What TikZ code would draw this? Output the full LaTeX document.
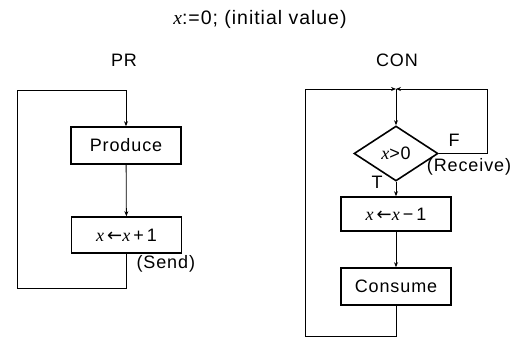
\documentclass[tikz,border=0pt]{standalone}
\usepackage{fontspec}
\setmainfont{Liberation Sans}[LetterSpace=5]
\newfontfamily\varfont{Liberation Serif}
\newfontfamily\symfont{DejaVu Sans}
\newcommand{\vx}{{\varfont\itshape x}}
\newcommand{\asgn}{{\symfont ←}}
\usetikzlibrary{arrows.meta, shapes.geometric}

\begin{document}
\begin{tikzpicture}[x=1pt, y=-1pt, font=\fontsize{18}{21}\selectfont,
    box/.style={draw, line width=1.6pt, minimum width=110pt, align=center},
    cond/.style={draw, line width=1.6pt, diamond, inner sep=0pt, minimum width=84pt, minimum height=55pt},
    wire/.style={line width=0.8pt},
    arr/.style={wire, -{Stealth[length=5pt, width=4pt]}}]
    \useasboundingbox (0,0) rectangle (515,339);

    \node[font=\fontsize{19.5}{22}\selectfont] (init) at (260,19) {\vx:=0; (initial value)};
    \node (pr)   at (124,60) {PR};
    \node (con)  at (397,60) {CON};

    % producer
    \node[box, minimum height=37pt] (prod) at (126,145.5) {Produce};
    \node[box, minimum height=36pt] (send) at (126.5,235) {\vx\,\asgn\vx\,+\,1};
    \node[anchor=west] (sendlbl) at (133,264) {(Send)};
    \coordinate (ptop) at (17,90);
    \coordinate (pbot) at (17,288);
    \draw[arr] (prod) -- (send);
    \draw[arr] (send.south) -- (send.south |- pbot) -- (pbot) -- (ptop) -- (prod.north |- ptop) -- (prod.north);

    % consumer
    \coordinate (merge) at (396,89);
    \coordinate (ctopl) at (305,89);
    \coordinate (ctopr) at (487,89);
    \coordinate (cbot)  at (305,336);
    \node[cond] (test) at (396,153.5) {\vx>0};
    \node[box, minimum height=34pt] (dec)  at (396,214) {\vx\,\asgn\vx\,−\,1};
    \node[box, minimum height=37pt] (cons) at (396,286.5) {Consume};
    \node (flbl) at (454,140) {F};
    \node (tlbl) at (377,182) {T};
    \node (recv) at (469,167) {(Receive)};
    \draw[arr] (merge) -- (test.north);
    \draw[arr] (test.south) -- (dec.north);
    \draw[arr] (dec) -- (cons);
    \draw[arr] (test.east) -- (ctopr |- test.east) -- (ctopr) -- (merge);
    \draw[arr] (cons.south) -- (cons.south |- cbot) -- (cbot) -- (ctopl) -- (merge);
\end{tikzpicture}
\end{document}
